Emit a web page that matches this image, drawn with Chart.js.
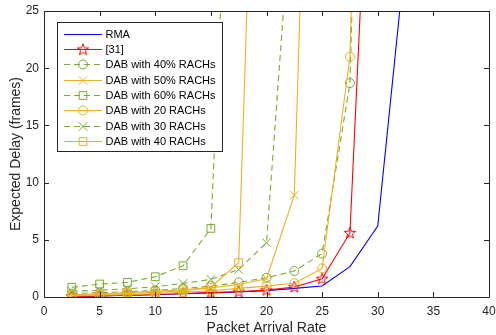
<!DOCTYPE html>
<html>
<head>
<meta charset="utf-8">
<script src="https://cdn.jsdelivr.net/npm/chart.js@4.4.0/dist/chart.umd.min.js"></script>
<style>
html, body { margin: 0; padding: 0; background: #fff; }
#wrap { width: 496px; height: 335px; }
</style>
</head>
<body>
<div id="wrap"><canvas id="delayChart" width="496" height="335"></canvas></div>
<script>
// values (expected delay in frames vs packet arrival rate)
const arrivalRates = [2.5, 5, 7.5, 10, 12.5, 15, 17.5, 20, 22.5, 25, 27.5, 30, 32.5];
const rmaDelay   = [0.05, 0.1, 0.15, 0.2, 0.28, 0.36, 0.45, 0.55, 0.75, 0.96, 2.65, 6.2, 30];
const ref31Delay = [0.05, 0.1, 0.15, 0.22, 0.3, 0.38, 0.46, 0.6, 0.88, 1.6, 5.6, 58];
const dab40pDelay = [0.3, 0.38, 0.47, 0.58, 0.75, 0.95, 1.28, 1.68, 2.27, 3.8, 18.7, 105];
const dab50pDelay = [0.15, 0.22, 0.3, 0.4, 0.55, 0.8, 1.1, 1.6, 8.9, 89];
const dab60pDelay = [0.85, 1.13, 1.28, 1.77, 2.73, 6.0, 61];
const dab20Delay = [0.1, 0.15, 0.2, 0.28, 0.4, 0.55, 0.75, 0.95, 1.2, 2.5, 21, 120];
const dab30Delay = [0.5, 0.6, 0.72, 0.9, 1.19, 1.54, 2.41, 4.74, 38];
const dab40Delay = [0.2, 0.28, 0.38, 0.5, 0.62, 0.85, 3.0, 78];

const xTicks = [0, 5, 10, 15, 20, 25, 30, 35, 40];
const yTicks = [0, 5, 10, 15, 20, 25];

const BLUE = '#0000ff';
const RED = '#ff0000';
const GREEN = '#77ac30';
const ORANGE = '#edb120';
const AXIS = '#262626';

// pentagram marker, like matlab 'p'
function makeStar(color) {
    const c = document.createElement('canvas');
    c.width = 14; c.height = 14;
    const g = c.getContext('2d');
    g.strokeStyle = color;
    g.lineWidth = 1;
    g.beginPath();
    for (let i = 0; i < 10; i++) {
        const r = i % 2 === 0 ? 6 : 2.5;
        const a = -Math.PI / 2 + i * Math.PI / 5;
        const px = 7 + r * Math.cos(a), py = 7.3 + r * Math.sin(a);
        if (i === 0) g.moveTo(px, py); else g.lineTo(px, py);
    }
    g.closePath();
    g.stroke();
    return c;
}
const starImg = makeStar(RED);

function toPoints(values) {
    return values.map((v, i) => ({ x: arrivalRates[i], y: v }));
}

function series(label, values, color, style, radius, dashed) {
    return {
        label: label,
        data: toPoints(values),
        borderColor: color,
        borderWidth: 1.1,
        borderDash: dashed ? [6, 4] : [],
        pointStyle: style,
        pointRadius: radius,
        pointBorderColor: color,
        pointBackgroundColor: 'rgba(0,0,0,0)',
        pointBorderWidth: 1,
        fill: false,
        tension: 0
    };
}

const datasets = [
    series('RMA', rmaDelay, BLUE, false, 0, false),
    series('[31]', ref31Delay, RED, starImg, 6, false),
    series('DAB with 40% RACHs', dab40pDelay, GREEN, 'circle', 4.5, true),
    series('DAB with 50% RACHs', dab50pDelay, ORANGE, 'crossRot', 6, false),
    series('DAB with 60% RACHs', dab60pDelay, GREEN, 'rect', 5.5, true),
    series('DAB with 20 RACHs', dab20Delay, ORANGE, 'circle', 4.5, false),
    series('DAB with 30 RACHs', dab30Delay, GREEN, 'crossRot', 6, true),
    series('DAB with 40 RACHs', dab40Delay, ORANGE, 'rect', 5.5, false)
];
// matlab draws later lines on top
datasets.forEach((d, i) => { d.order = datasets.length - i; });

function drawMarker(ctx, style, color, x, y, r) {
    ctx.save();
    ctx.setLineDash([]);
    ctx.strokeStyle = color;
    ctx.lineWidth = 1;
    ctx.beginPath();
    if (style === 'circle') {
        ctx.arc(x, y, r, 0, Math.PI * 2);
    } else if (style === 'rect') {
        const s = r * Math.SQRT1_2;
        ctx.rect(x - s, y - s, 2 * s, 2 * s);
    } else if (style === 'crossRot') {
        const s = r * Math.SQRT1_2;
        ctx.moveTo(x - s, y - s); ctx.lineTo(x + s, y + s);
        ctx.moveTo(x - s, y + s); ctx.lineTo(x + s, y - s);
    } else if (style instanceof HTMLCanvasElement) {
        ctx.drawImage(style, x - style.width / 2, y - style.height / 2);
    }
    ctx.stroke();
    ctx.restore();
}

// box, inward ticks and legend drawn the matlab way
const matlabAxes = {
    id: 'matlabAxes',
    afterDatasetsDraw(chart) {
        const ctx = chart.ctx;
        const a = chart.chartArea;
        const xs = chart.scales.x, ys = chart.scales.y;
        ctx.save();
        ctx.strokeStyle = AXIS;
        ctx.lineWidth = 1;
        ctx.beginPath();
        ctx.rect(Math.round(a.left) + 0.5, Math.round(a.top) + 0.5,
            Math.round(a.right - a.left), Math.round(a.bottom - a.top));
        xTicks.forEach(t => {
            const px = Math.round(xs.getPixelForValue(t)) + 0.5;
            ctx.moveTo(px, a.bottom); ctx.lineTo(px, a.bottom - 5);
            ctx.moveTo(px, a.top); ctx.lineTo(px, a.top + 5);
        });
        yTicks.forEach(t => {
            const py = Math.round(ys.getPixelForValue(t)) + 0.5;
            ctx.moveTo(a.left, py); ctx.lineTo(a.left + 5, py);
            ctx.moveTo(a.right, py); ctx.lineTo(a.right - 5, py);
        });
        ctx.stroke();

        // legend
        const lx = 57, ly = 22, lw = 165, lh = 129;
        ctx.fillStyle = '#fff';
        ctx.fillRect(lx, ly, lw, lh);
        ctx.strokeRect(lx + 0.5, ly + 0.5, lw, lh);
        ctx.font = '11px "Liberation Sans", Arial, sans-serif';
        ctx.textBaseline = 'middle';
        chart.data.datasets.forEach((d, i) => {
            const y = Math.round(33.5 + i * 15.35) + 0.5;
            ctx.save();
            ctx.strokeStyle = d.borderColor;
            ctx.setLineDash(d.borderDash);
            ctx.beginPath();
            ctx.moveTo(64, y); ctx.lineTo(102, y);
            ctx.stroke();
            ctx.restore();
            if (d.pointRadius > 0) drawMarker(ctx, d.pointStyle, d.borderColor, 83, y, d.pointRadius);
            ctx.fillStyle = '#000';
            ctx.fillText(d.label, 105.5, y + 0.5);
        });
        ctx.restore();
    }
};

const ctx = document.getElementById('delayChart').getContext('2d');
const delayChart = new Chart(ctx, {
    type: 'line',
    data: { datasets: datasets },
    options: {
        responsive: false,
        animation: false,
        events: [],
        layout: { padding: { top: 11, right: 4, left: 0, bottom: 0 } },
        plugins: { legend: { display: false }, tooltip: { enabled: false } },
        scales: {
            x: {
                type: 'linear',
                min: 0, max: 40,
                grid: { display: false, drawTicks: false },
                border: { display: false },
                ticks: {
                    stepSize: 5, padding: 7, color: AXIS,
                    maxRotation: 0,
                    font: { family: '"Liberation Sans", Arial, sans-serif', size: 12 }
                },
                title: {
                    display: true, text: 'Packet Arrival Rate', color: AXIS,
                    padding: { top: 0, bottom: -2 },
                    font: { family: '"Liberation Sans", Arial, sans-serif', size: 14 }
                },
                afterFit(scale) {
                    scale.height = 38;
                    scale.paddingLeft = 0;
                    scale.paddingRight = 0;
                }
            },
            y: {
                type: 'linear',
                min: 0, max: 25,
                grid: { display: false, drawTicks: false },
                border: { display: false },
                ticks: {
                    stepSize: 5, padding: 5, color: AXIS,
                    font: { family: '"Liberation Sans", Arial, sans-serif', size: 12 }
                },
                title: {
                    display: true, text: 'Expected Delay (frames)', color: AXIS,
                    padding: { top: 8, bottom: 0 },
                    font: { family: '"Liberation Sans", Arial, sans-serif', size: 14 }
                },
                afterFit(scale) {
                    scale.width = 44;
                    scale.paddingTop = 0;
                    scale.paddingBottom = 0;
                }
            }
        }
    },
    plugins: [matlabAxes]
});
</script>
</body>
</html>
